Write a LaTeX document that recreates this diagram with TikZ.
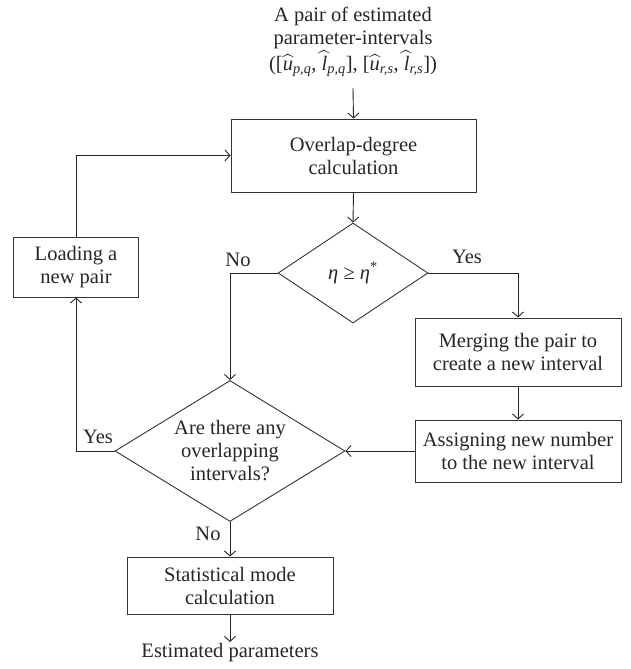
\documentclass[tikz,border=0pt]{standalone}
\usepackage{amsmath}
\usepackage{fontspec}
\setmainfont{Liberation Serif}
\usetikzlibrary{shapes.geometric,arrows.meta}
\newcommand{\hatv}[1]{\ensuremath{\widehat{\text{\itshape #1}}}}
\newcommand{\subv}[1]{\textsubscript{\itshape #1}}
\begin{document}
\begin{tikzpicture}[x=1pt,y=-1pt,
  every node/.style={font=\fontsize{20.5}{23}\selectfont, text=black!85},
  box/.style={draw=black!80, line width=0.9pt, rectangle, align=center, inner sep=0pt},
  dec/.style={draw=black!80, line width=0.9pt, diamond, align=center, inner sep=0pt},
  conn/.style={draw=black!85, line width=0.9pt, -{Straight Barb[length=5pt,width=11pt]}},
  lab/.style={inner sep=0pt}]
\useasboundingbox (0,0) rectangle (631,669);

\node[align=center, inner sep=0pt] (src) at (353,42) {A pair of estimated\\parameter-intervals\\([\hatv{u}\subv{p,q}, \hatv{l}\subv{p,q}], [\hatv{u}\subv{r,s}, \hatv{l}\subv{r,s}])};
\coordinate (srcout) at (353,88);

\node[box, minimum width=245pt, minimum height=73pt] (ov) at (353.5,155.5) {Overlap-degree\\calculation};
\node[dec, aspect=1.5, minimum width=150pt, minimum height=100pt] (d1) at (353,273) {{\itshape η} ≥ {\itshape η}\textsuperscript{*}};
\node[box, minimum width=206pt, minimum height=68pt] (mg) at (518,352) {Merging the pair to\\create a new interval};
\node[box, minimum width=206pt, minimum height=62pt] (as) at (518,451) {Assigning new number\\to the new interval};
\node[dec, aspect=1.63, minimum width=230pt, minimum height=141pt] (d2) at (230,451) {Are there any\\overlapping\\intervals?};
\node[box, minimum width=125pt, minimum height=60pt] (ld) at (76,267) {Loading a\\new pair};
\node[box, minimum width=206pt, minimum height=57pt] (st) at (230,585.5) {Statistical mode\\calculation};
\node[anchor=north, inner sep=1pt] (est) at (230,642) {Estimated parameters};

\node[lab] (l1) at (238,260) {No};
\node[lab] (l2) at (467,257) {Yes};
\node[lab] (l3) at (98,437) {Yes};
\node[lab] (l4) at (208,534) {No};

\draw[conn] (srcout) -- (ov.north);
\draw[conn] (ov.south) -- (d1.north);
\draw[conn] (d1.west) -| (d2.north);
\draw[conn] (d1.east) -| (mg.north);
\draw[conn] (mg.south) -- (as.north);
\draw[conn] (as.west) -- (d2.east);
\draw[conn] (d2.west) -| (ld.south);
\draw[conn] (ld.north) |- (ov.west);
\draw[conn] (d2.south) -- (st.north);
\draw[conn] (st.south) -- (est.north);
\end{tikzpicture}
\end{document}
